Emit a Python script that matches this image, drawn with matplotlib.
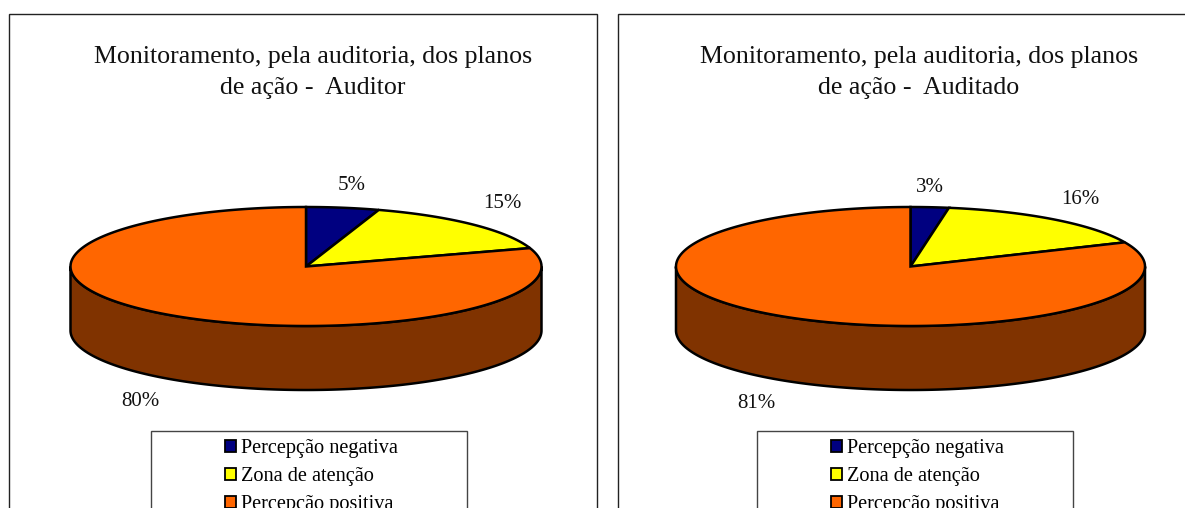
import numpy as np
import matplotlib
matplotlib.use("Agg")
from matplotlib import pyplot as plt
from matplotlib.patches import Patch, Polygon, Rectangle

plt.rcParams['font.family'] = ['Liberation Serif', 'DejaVu Serif']

categories = ['Percepção negativa', 'Zona de atenção', 'Percepção positiva']
auditor_values = [5, 15, 80]
auditado_values = [2.6, 15.6, 81]
auditor_title = 'Monitoramento, pela auditoria, dos planos\nde ação -  Auditor'
auditado_title = 'Monitoramento, pela auditoria, dos planos\nde ação -  Auditado'

top_colors = ['#000080', '#FFFF00', '#FF6600']
side_colors = ['#000040', '#808000', '#803300']


def ellipse(cx, cy, rx, ry, a0, a1):
    # angles in degrees, clockwise from the top of the pie
    t = np.radians(np.linspace(a0, a1, max(int(abs(a1 - a0)) * 2, 2)))
    return np.column_stack([cx + rx * np.sin(t), cy - ry * np.cos(t)])


def draw_pie(ax, values, cx, cy, rx, ry, depth):
    edges = np.cumsum([0] + values) / sum(values) * 360
    for i in range(len(values)):
        a0 = max(edges[i], 90)
        a1 = min(edges[i + 1], 270)
        if a1 > a0:
            rim = ellipse(cx, cy, rx, ry, a0, a1)
            low = rim[::-1] + [0, depth]
            ax.add_patch(Polygon(np.vstack([rim, low]), fc=side_colors[i], ec='black', lw=1.8))
    for i in range(len(values)):
        rim = ellipse(cx, cy, rx, ry, edges[i], edges[i + 1])
        ax.add_patch(Polygon(np.vstack([[cx, cy], rim]), fc=top_colors[i], ec='black', lw=1.8))


def draw_panel(ax, values, title, left, right, cx, rx, title_x, label_pos, legend_box):
    ax.add_patch(Rectangle((left, 14), right - left, 600, fc='white', ec='#222222', lw=1))
    ax.text(title_x, 57, title.split('\n')[0], ha='center', va='center', fontsize=18.6, color='#111111')
    ax.text(title_x, 88, title.split('\n')[1], ha='center', va='center', fontsize=18.6, color='#111111')
    draw_pie(ax, values, cx, 266.5, rx, 59.5, 64)
    for v, (x, y) in zip(values, label_pos):
        ax.text(x, y, '%d%%' % round(v), ha='center', va='center', fontsize=15, color='#111111')
    ax.add_patch(Rectangle((legend_box, 431), 316, 200, fc='white', ec='#444444', lw=1))
    handles = [Patch(fc=c, ec='black', lw=1.3) for c in top_colors]
    leg = ax.legend(handles, categories, loc='upper left', bbox_to_anchor=(legend_box + 72, 437),
                    bbox_transform=ax.transData, frameon=False, fontsize=14.6,
                    handlelength=0.55, handleheight=0.55, handletextpad=0.22,
                    labelspacing=0.44, borderpad=0.1, borderaxespad=0)
    # keep both legends, otherwise the last one gets drawn twice
    ax.legend_ = None
    ax.add_artist(leg)


fig = plt.figure(figsize=(11.85, 5.08), dpi=100)
ax = fig.add_axes([0, 0, 1, 1])
ax.set_xlim(0, 1185)
ax.set_ylim(508, 0)
ax.axis('off')

draw_panel(ax, auditor_values, auditor_title, 9, 597, 306, 235.5, 313,
           [(352, 186), (502, 203), (140, 402)], 151)
draw_panel(ax, auditado_values, auditado_title, 618, 1300, 910.5, 234.5, 919,
           [(930, 188), (1080, 200), (756, 403)], 757)

fig.savefig('out.png', dpi=100)
